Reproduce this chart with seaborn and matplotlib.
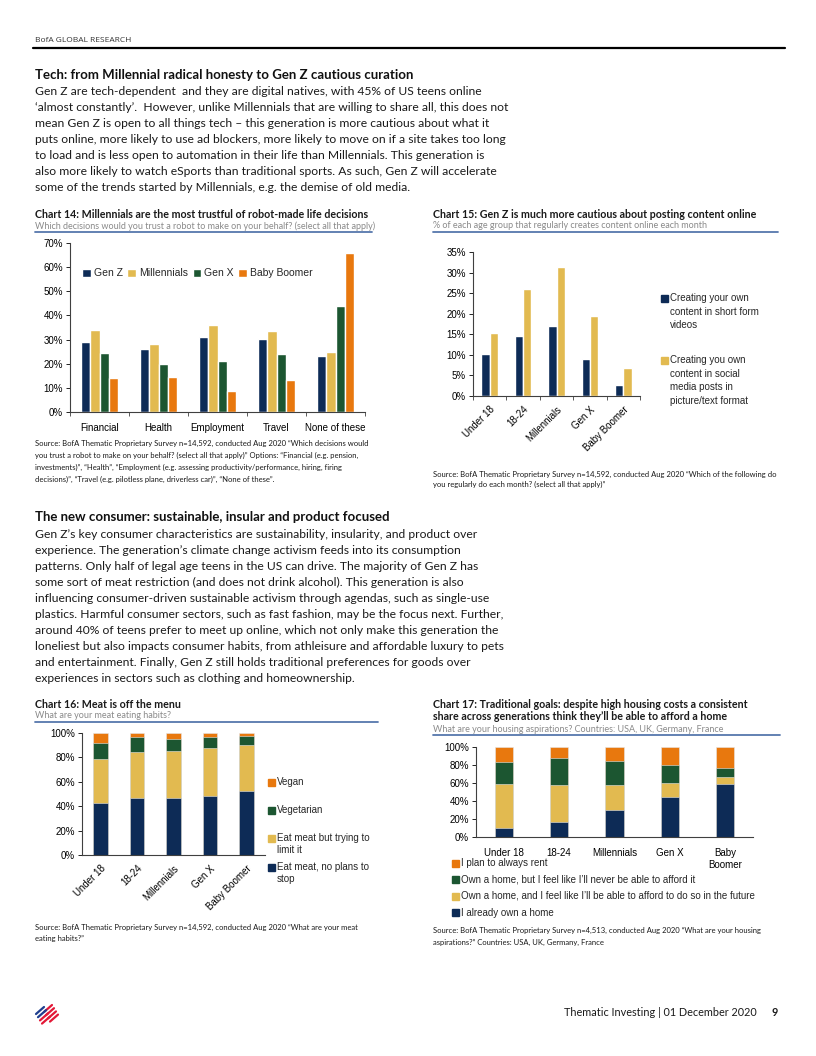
import numpy as np
import pandas as pd
import matplotlib.pyplot as plt
import seaborn as sns
from matplotlib.patches import Rectangle
from matplotlib.lines import Line2D

# chart 14 - trust in robot decisions (% of each generation)
ch14_cats = ['Financial', 'Health', 'Employment', 'Travel', 'None of these']
ch14_series = ['Gen Z', 'Millennials', 'Gen X', 'Baby Boomer']
ch14_genz = [29.0, 26.0, 31.2, 30.3, 23.3]
ch14_mill = [34.0, 28.2, 36.1, 33.5, 25.0]
ch14_genx = [24.6, 19.8, 21.1, 24.2, 44.1]
ch14_boom = [14.1, 14.5, 8.8, 13.2, 65.7]

# chart 15 - content creation
age_groups = ['Under 18', '18-24', 'Millennials', 'Gen X', 'Baby Boomer']
ch15_series = ['Creating your own\ncontent in short form\nvideos',
               'Creating you own\ncontent in social\nmedia posts in\npicture/text format']
ch15_video = [10.1, 14.5, 17.1, 9.1, 2.7]
ch15_posts = [15.3, 25.9, 31.3, 19.5, 6.8]

# chart 16 - meat eating habits (stacked, bottom to top)
ch16_series = ['Eat meat, no plans to\nstop', 'Eat meat but trying to\nlimit it', 'Vegetarian', 'Vegan']
meat_no_plans = [43.0, 46.7, 46.7, 48.4, 52.7]
meat_limit = [36.0, 37.7, 38.5, 39.6, 37.7]
vegetarian = [12.8, 12.0, 10.2, 8.4, 7.1]
vegan = [8.2, 3.6, 4.6, 3.6, 2.5]

# chart 17 - housing aspirations (stacked, bottom to top)
ch17_labels = ['Under 18', '18-24', 'Millennials', 'Gen X', 'Baby\nBoomer']
ch17_series = ['I already own a home',
               'Own a home, and I feel like I\u2019ll be able to afford to do so in the future',
               'Own a home, but I feel like I\u2019ll never be able to afford it',
               'I plan to always rent']
own_already = [10.4, 16.7, 30.4, 44.4, 58.5]
own_future = [48.1, 40.7, 27.0, 15.6, 8.2]
own_never = [24.8, 30.4, 27.0, 19.6, 10.0]
always_rent = [16.7, 12.2, 15.6, 20.4, 23.3]

navy = '#0d2b56'
gold = '#e2ba50'
green = '#1c5631'
orange = '#e8780e'
pal = [navy, gold, green, orange]

sns.set_theme(style='white')
plt.rcParams['font.family'] = ['Liberation Sans', 'DejaVu Sans']

W, H = 816, 1056
fig = plt.figure(figsize=(8.16, 10.56), dpi=100)


def fx(x):
    return x / W


def fy(y):
    return 1 - y / H


def txt(x, y, s, **kw):
    kw.setdefault('va', 'center')
    fig.text(fx(x), fy(y), s, **kw)


def body(x, y, s, **kw):
    txt(x, y, s, family=['Lato', 'DejaVu Sans'], **kw)


def axes_px(l, t, r, b):
    return fig.add_axes([fx(l), fy(b), (r - l) / W, (b - t) / H])


def style(ax, ymax, step):
    ax.set_ylim(0, ymax)
    ticks = np.arange(0, ymax + 0.1, step)
    ax.set_yticks(ticks)
    ax.set_yticklabels([f'{v:.0f}%' for v in ticks])
    for s in ['top', 'right']:
        ax.spines[s].set_visible(False)
    for s in ['left', 'bottom']:
        ax.spines[s].set_color('#404040')
        ax.spines[s].set_linewidth(0.8)
    ax.tick_params(axis='y', length=3, width=0.6, labelsize=7, pad=2, colors='black', left=True)
    ax.tick_params(axis='x', length=0, labelsize=7, colors='black')
    ax.set_xlabel('')
    ax.set_ylabel('')


def chart_head(x, y, lines, sub, x2):
    for i, l in enumerate(lines):
        body(x, y + i * 13, l, fontsize=7.65, fontweight='bold', color='#1a1a1a')
    ys = y + len(lines) * 13 - 1
    body(x, ys, sub, fontsize=6.45, color='#8a8a8a')
    fig.add_artist(Line2D([fx(x), fx(x2)], [fy(ys + 6), fy(ys + 6)], color='#5677ad', lw=1.3))


def legend_px(x, ys, labels, colors, size=7, lsp=1.45):
    for y, lab, c in zip(ys, labels, colors):
        fig.add_artist(Rectangle((fx(x), fy(y + 3.5)), 7 / W, 7 / H, color=c, transform=fig.transFigure))
        txt(x + 9, y - 5, lab, fontsize=size, va='top', linespacing=lsp)


def stacked(ax, cats, layers, colors, width):
    cum = np.cumsum(np.array(layers), axis=0)
    for i in range(len(layers) - 1, -1, -1):
        sns.barplot(x=cats, y=cum[i], color=colors[i], width=width, saturation=1,
                    edgecolor='#e6e6e6', linewidth=0.4, ax=ax, errorbar=None)


def source(x, y, lines, step):
    for i, l in enumerate(lines):
        body(x, y + i * step, l, fontsize=5.5, color='#1a1a1a')


# ---- page header
txt(35, 41, 'BofA GLOBAL RESEARCH', fontsize=6.0, color='#333333', family=['Open Sans', 'DejaVu Sans'])
fig.add_artist(Line2D([fx(33), fx(785)], [fy(48), fy(48)], color='black', lw=1.6))

body(35, 75, 'Tech: from Millennial radical honesty to Gen Z cautious curation', fontsize=9.5, fontweight='bold', color='#111111')
para1 = ['Gen Z are tech-dependent  and they are digital natives, with 45% of US teens online',
         '\u2018almost constantly\u2019.  However, unlike Millennials that are willing to share all, this does not',
         'mean Gen Z is open to all things tech \u2013 this generation is more cautious about what it',
         'puts online, more likely to use ad blockers, more likely to move on if a site takes too long',
         'to load and is less open to automation in their life than Millennials. This generation is',
         'also more likely to watch eSports than traditional sports. As such, Gen Z will accelerate',
         'some of the trends started by Millennials, e.g. the demise of old media.']
for i, l in enumerate(para1):
    body(35, 91.5 + i * 16, l, fontsize=8.75, color='#1a1a1a')

body(35, 517, 'The new consumer: sustainable, insular and product focused', fontsize=9.5, fontweight='bold', color='#111111')
para2 = ['Gen Z\u2019s key consumer characteristics are sustainability, insularity, and product over',
         'experience. The generation\u2019s climate change activism feeds into its consumption',
         'patterns. Only half of legal age teens in the US can drive. The majority of Gen Z has',
         'some sort of meat restriction (and does not drink alcohol). This generation is also',
         'influencing consumer-driven sustainable activism through agendas, such as single-use',
         'plastics. Harmful consumer sectors, such as fast fashion, may be the focus next. Further,',
         'around 40% of teens prefer to meet up online, which not only make this generation the',
         'loneliest but also impacts consumer habits, from athleisure and affordable luxury to pets',
         'and entertainment. Finally, Gen Z still holds traditional preferences for goods over',
         'experiences in sectors such as clothing and homeownership.']
for i, l in enumerate(para2):
    body(35, 534 + i * 16.1, l, fontsize=8.75, color='#1a1a1a')

# ---- chart 14
chart_head(35, 214, ['Chart 14: Millennials are the most trustful of robot-made life decisions'],
           'Which decisions would you trust a robot to make on your behalf? (select all that apply)', 372)
df14 = pd.DataFrame({'cat': ch14_cats * 4,
                     'series': np.repeat(ch14_series, len(ch14_cats)),
                     'val': ch14_genz + ch14_mill + ch14_genx + ch14_boom})
ax14 = axes_px(70, 243, 365, 412)
sns.barplot(data=df14, x='cat', y='val', hue='series', palette=pal, width=0.64, saturation=1,
            errorbar=None, ax=ax14)
style(ax14, 70, 10)
ax14.tick_params(axis='x', pad=8)
ax14.set_xticks(np.arange(-0.5, 5, 1), minor=True)
ax14.tick_params(axis='x', which='minor', length=3, width=0.6, bottom=True, color='#404040')
ax14.legend(loc='upper left', bbox_to_anchor=(0.01, 0.905), ncol=4, frameon=False, fontsize=7.5,
            handlelength=0.85, handleheight=0.85, handletextpad=0.25, columnspacing=0.45)
source(35, 443, ['Source: BofA Thematic Proprietary Survey n=14,592, conducted Aug 2020 \u201cWhich decisions would',
                 'you trust a robot to make on your behalf? (select all that apply)\u201d Options: \u201cFinancial (e.g. pension,',
                 'investments)\u201d, \u201cHealth\u201d, \u201cEmployment (e.g. assessing productivity/performance, hiring, firing',
                 'decisions)\u201d, \u201cTravel (e.g. pilotless plane, driverless car)\u201d, \u201cNone of these\u201d.'], 12.2)

# ---- chart 15
chart_head(433, 214, ['Chart 15: Gen Z is much more cautious about posting content online'],
           '% of each age group that regularly creates content online each month', 778)
df15 = pd.DataFrame({'cat': age_groups * 2,
                     'series': np.repeat(['video', 'posts'], len(age_groups)),
                     'val': ch15_video + ch15_posts})
ax15 = axes_px(473, 252, 640, 396)
sns.barplot(data=df15, x='cat', y='val', hue='series', palette=[navy, gold], width=0.5, saturation=1,
            errorbar=None, ax=ax15, legend=False)
style(ax15, 35, 5)
ax15.set_xticks(range(len(age_groups)))
ax15.set_xticklabels(age_groups, rotation=45, ha='right', rotation_mode='anchor')
ax15.tick_params(axis='x', pad=6)
ax15.set_xticks(np.arange(-0.5, 5, 1), minor=True)
ax15.tick_params(axis='x', which='minor', length=3, width=0.6, bottom=True, color='#404040')
legend_px(661, [298, 360], ch15_series, [navy, gold])
source(433, 474, ['Source: BofA Thematic Proprietary Survey n=14,592, conducted Aug 2020 \u201cWhich of the following do',
                  'you regularly do each month? (select all that apply)\u201d'], 10.5)

# ---- chart 16
chart_head(35, 704, ['Chart 16: Meat is off the menu'], 'What are your meat eating habits?', 378)
ax16 = axes_px(82, 733, 265, 855)
stacked(ax16, age_groups, [meat_no_plans, meat_limit, vegetarian, vegan], pal, 0.4)
style(ax16, 100, 20)
ax16.set_xticks(range(len(age_groups)))
ax16.set_xticklabels(age_groups, rotation=45, ha='right', rotation_mode='anchor')
ax16.tick_params(axis='x', pad=6)
legend_px(268, [782, 810, 838, 867], ch16_series[::-1], pal[::-1], lsp=1.3)
source(35, 927, ['Source: BofA Thematic Proprietary Survey n=14,592, conducted Aug 2020 \u201cWhat are your meat',
                 'eating habits?\u201d'], 11)

# ---- chart 17
chart_head(433, 704, ['Chart 17: Traditional goals: despite high housing costs a consistent',
                      'share across generations think they\u2019ll be able to afford a home'],
           'What are your housing aspirations? Countries: USA, UK, Germany, France', 780)
ax17 = axes_px(476, 747, 753, 837)
stacked(ax17, ch17_labels, [own_already, own_future, own_never, always_rent], pal, 0.33)
style(ax17, 100, 20)
ax17.tick_params(axis='x', pad=8)
legend_px(452, [863, 879.5, 896, 912.5], ch17_series[::-1], pal[::-1])
source(433, 930, ['Source: BofA Thematic Proprietary Survey n=4,513, conducted Aug 2020 \u201cWhat are your housing',
                  'aspirations?\u201d Countries: USA, UK, Germany, France'], 12)

# ---- footer
for i in range(4):
    y0 = 1007 + i * 3.2
    c = '#1f3f8f' if i < 2 else '#e31837'
    fig.add_artist(Line2D([fx(36 + i * 2), fx(44 + i * 2)], [fy(y0 + 7), fy(y0)], color=c, lw=1.6))
    fig.add_artist(Line2D([fx(44 + i * 2), fx(52 + i * 2)], [fy(y0 + 5), fy(y0 - 2)], color='#e31837', lw=1.6))
body(757, 1013, 'Thematic Investing | 01 December 2020', fontsize=7.8, ha='right', color='#1a1a1a')
body(778, 1013, '9', fontsize=7.8, fontweight='bold', ha='right', color='#1a1a1a')

fig.savefig('out.png', dpi=100, facecolor='white')
